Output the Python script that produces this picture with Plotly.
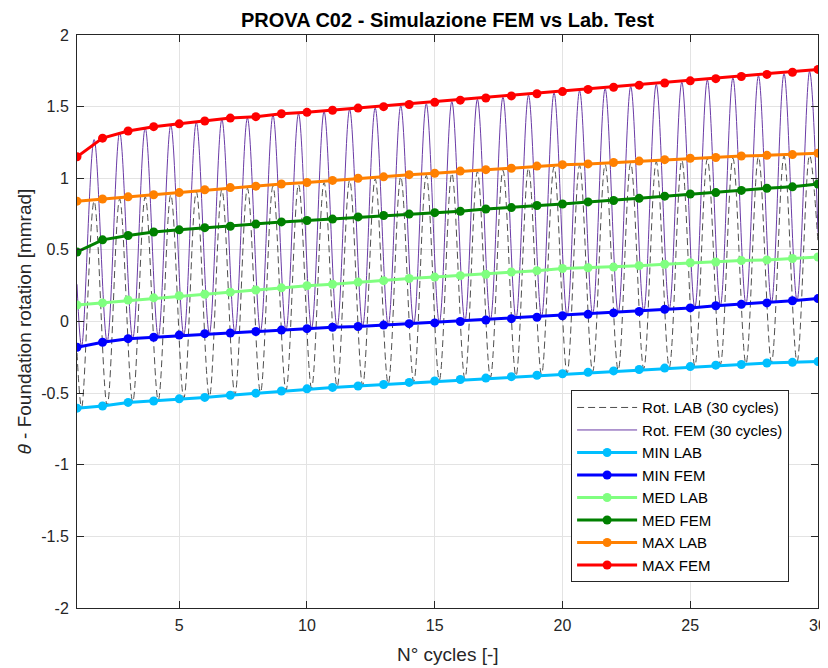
import plotly.graph_objects as go

# cycle index
cycles = list(range(1, 31))

# per-cycle envelopes [mmrad]
min_lab = [-0.605, -0.59, -0.565, -0.555, -0.54, -0.53, -0.515, -0.50, -0.485, -0.47,
           -0.46, -0.45, -0.44, -0.425, -0.415, -0.405, -0.395, -0.385, -0.375, -0.365,
           -0.355, -0.345, -0.335, -0.325, -0.315, -0.305, -0.30, -0.29, -0.285, -0.28]
min_fem = [-0.18, -0.145, -0.12, -0.11, -0.095, -0.085, -0.08, -0.07, -0.06, -0.05,
           -0.04, -0.035, -0.025, -0.015, -0.01, 0.0, 0.01, 0.02, 0.03, 0.04,
           0.05, 0.06, 0.07, 0.085, 0.095, 0.11, 0.12, 0.13, 0.145, 0.16]
med_lab = [0.115, 0.13, 0.15, 0.165, 0.18, 0.19, 0.205, 0.22, 0.235, 0.25,
           0.26, 0.275, 0.285, 0.30, 0.31, 0.32, 0.33, 0.345, 0.355, 0.37,
           0.375, 0.38, 0.39, 0.40, 0.41, 0.415, 0.425, 0.43, 0.44, 0.45]
med_fem = [0.485, 0.57, 0.60, 0.625, 0.64, 0.655, 0.665, 0.68, 0.695, 0.705,
           0.715, 0.73, 0.74, 0.75, 0.76, 0.77, 0.785, 0.795, 0.81, 0.82,
           0.835, 0.845, 0.86, 0.875, 0.89, 0.90, 0.915, 0.93, 0.94, 0.96]
max_lab = [0.84, 0.855, 0.87, 0.885, 0.90, 0.92, 0.935, 0.945, 0.96, 0.97,
           0.985, 1.0, 1.01, 1.025, 1.035, 1.05, 1.06, 1.07, 1.085, 1.095,
           1.10, 1.11, 1.12, 1.13, 1.14, 1.145, 1.155, 1.16, 1.165, 1.175]
max_fem = [1.15, 1.28, 1.33, 1.36, 1.38, 1.40, 1.42, 1.43, 1.45, 1.46,
           1.475, 1.49, 1.50, 1.515, 1.53, 1.545, 1.56, 1.575, 1.59, 1.605,
           1.62, 1.635, 1.65, 1.665, 1.68, 1.695, 1.71, 1.725, 1.74, 1.76]

# rotation time histories: start, troughs, peaks, end
t_start, t_end = 1.0, 30.0
t_trough = [1.18, 2.18, 3.18, 4.18, 5.18, 6.18, 7.18, 8.18, 9.18, 10.18,
            11.18, 12.18, 13.18, 14.18, 15.18, 16.18, 17.18, 18.18, 19.18, 20.18,
            21.18, 22.18, 23.18, 24.18, 25.18, 26.18, 27.18, 28.18, 29.18]
t_peak = [1.67, 2.67, 3.67, 4.67, 5.67, 6.67, 7.67, 8.67, 9.67, 10.67,
          11.67, 12.67, 13.67, 14.67, 15.67, 16.67, 17.67, 18.67, 19.67, 20.67,
          21.67, 22.67, 23.67, 24.67, 25.67, 26.67, 27.67, 28.67, 29.67]

fem_start, fem_end = 0.26, 0.62
fem_trough = [-0.175, -0.14, -0.12, -0.105, -0.093, -0.083, -0.077, -0.068, -0.058, -0.048,
              -0.039, -0.032, -0.023, -0.013, -0.008, 0.002, 0.012, 0.022, 0.032, 0.042,
              0.052, 0.062, 0.073, 0.087, 0.097, 0.112, 0.122, 0.133, 0.148]
fem_peak = [1.27, 1.32, 1.35, 1.37, 1.39, 1.41, 1.42, 1.44, 1.45, 1.465,
            1.48, 1.49, 1.505, 1.52, 1.535, 1.55, 1.565, 1.58, 1.595, 1.61,
            1.625, 1.64, 1.655, 1.67, 1.685, 1.70, 1.715, 1.73, 1.745]

lab_start, lab_end = -0.22, 0.55
lab_trough = [-0.60, -0.585, -0.56, -0.55, -0.535, -0.525, -0.51, -0.495, -0.48, -0.465,
              -0.455, -0.445, -0.435, -0.42, -0.41, -0.40, -0.39, -0.38, -0.37, -0.36,
              -0.35, -0.34, -0.33, -0.32, -0.31, -0.30, -0.295, -0.285, -0.28]
lab_peak = [0.84, 0.855, 0.87, 0.885, 0.905, 0.92, 0.93, 0.945, 0.955, 0.97,
            0.985, 0.995, 1.01, 1.02, 1.035, 1.045, 1.055, 1.07, 1.08, 1.09,
            1.095, 1.105, 1.115, 1.125, 1.135, 1.14, 1.15, 1.155, 1.16]

y_ticks = [-2, -1.5, -1, -0.5, 0, 0.5, 1, 1.5, 2]
y_ticktext = ['-2', '-1.5', '-1', '-0.5', '0', '0.5', '1', '1.5', '2']
x_ticks = [5, 10, 15, 20, 25, 30]


def history(start, end, troughs, peaks):
    t, v = [t_start], [start]
    for i in range(len(troughs)):
        t += [t_trough[i], t_peak[i]]
        v += [troughs[i], peaks[i]]
    t.append(t_end)
    v.append(end)
    return t, v


FONT = 'Liberation Sans, Arial, Helvetica, sans-serif'
DARK = '#262626'

fig = go.Figure()

t_lab, v_lab = history(lab_start, lab_end, lab_trough, lab_peak)
fig.add_trace(go.Scatter(x=t_lab, y=v_lab, mode='lines', name='Rot. LAB (30 cycles)',
                         line=dict(color='#3a3a3a', width=0.9, dash='7px,4px', shape='spline')))
t_fem, v_fem = history(fem_start, fem_end, fem_trough, fem_peak)
fig.add_trace(go.Scatter(x=t_fem, y=v_fem, mode='lines', name='Rot. FEM (30 cycles)',
                         line=dict(color='#6a3aa6', width=1, shape='spline')))

envelopes = [
    ('MIN LAB', min_lab, '#00BFFF'),
    ('MIN FEM', min_fem, '#0000FF'),
    ('MED LAB', med_lab, '#80FF80'),
    ('MED FEM', med_fem, '#008000'),
    ('MAX LAB', max_lab, '#FF8000'),
    ('MAX FEM', max_fem, '#FF0000'),
]
for name, vals, color in envelopes:
    fig.add_trace(go.Scatter(x=cycles, y=vals, mode='lines+markers', name=name,
                             line=dict(color=color, width=3),
                             marker=dict(color=color, size=9)))

fig.update_xaxes(range=[1, 30], tickvals=x_ticks, ticks='inside', ticklen=7, tickcolor=DARK,
                 mirror='ticks', showline=True, linecolor=DARK, linewidth=1,
                 showgrid=True, gridcolor='#e3e3e3', zeroline=False, automargin=False,
                 ticklabelstandoff=3, tickfont=dict(size=16, color=DARK))
fig.update_yaxes(range=[-2, 2], tickvals=y_ticks, ticktext=y_ticktext, ticks='inside', ticklen=7,
                 tickcolor=DARK, mirror='ticks', showline=True, linecolor=DARK, linewidth=1,
                 showgrid=True, gridcolor='#e3e3e3', zeroline=False, automargin=False,
                 ticklabelstandoff=4, tickfont=dict(size=16, color=DARK))

# axis labels
fig.add_annotation(text='N° cycles [-]', x=0.5, y=-0.082, xref='paper', yref='paper',
                   showarrow=False, xanchor='center', yanchor='middle',
                   font=dict(size=19, color=DARK))
fig.add_annotation(text='<i>θ</i> - Foundation rotation [mmrad]', x=-0.0715, y=0.5,
                   xref='paper', yref='paper', showarrow=False, textangle=-90,
                   xanchor='center', yanchor='middle', font=dict(size=19, color=DARK))

# the page body adds an 8px offset, so the figure is a bit smaller than the window
fig.update_layout(
    width=820, height=660,
    margin=dict(l=69, r=10, t=27, b=60),
    paper_bgcolor='white', plot_bgcolor='white',
    font=dict(family=FONT, color=DARK),
    title=dict(text='<b>PROVA C02 - Simulazione FEM vs Lab. Test</b>', x=0.5, xref='paper',
               xanchor='center', y=0.982, yanchor='middle', font=dict(size=20, color='black')),
    legend=dict(x=0.961, y=0.045, xanchor='right', yanchor='bottom', bgcolor='white',
                bordercolor=DARK, borderwidth=1, font=dict(size=15, color='black'),
                tracegroupgap=0, itemwidth=60),
    showlegend=True,
)

fig.write_html('out.html')
